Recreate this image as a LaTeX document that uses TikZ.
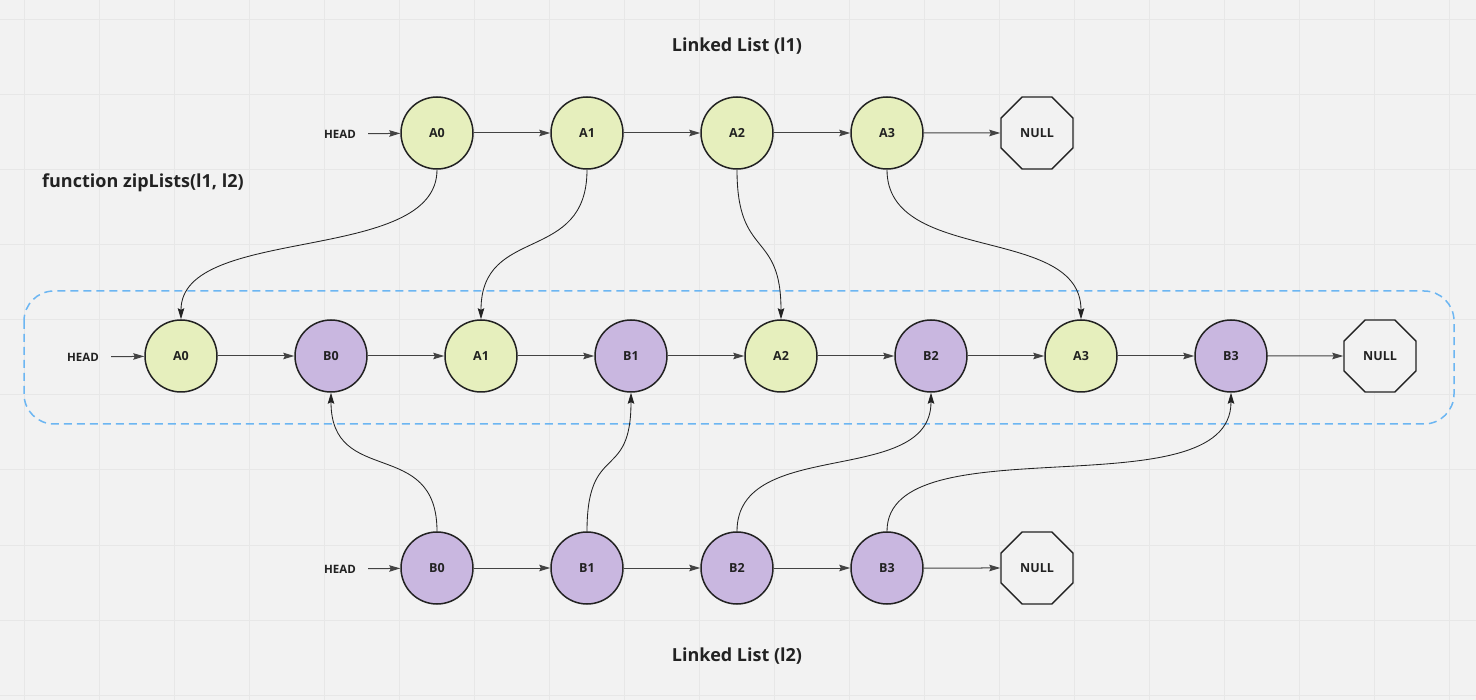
\documentclass[tikz,border=0pt]{standalone}
\usepackage{fontspec}
\setmainfont{Open Sans}
\usetikzlibrary{arrows.meta,shapes.geometric}

\definecolor{bg}{HTML}{F2F2F2}
\definecolor{gridc}{HTML}{E7E7E7}
\definecolor{lgreen}{HTML}{E6EFBD}
\definecolor{lpurple}{HTML}{C9B7E0}
\definecolor{dashblue}{HTML}{6CB6F2}
\definecolor{ink}{HTML}{222222}

\begin{document}
\begin{tikzpicture}[x=1pt,y=-1pt,
  listnode/.style={circle, draw=ink, line width=1.5pt, minimum size=72pt, inner sep=0pt,
    font=\bfseries\fontsize{12.5}{14}\selectfont, text=ink},
  anode/.style={listnode, fill=lgreen},
  bnode/.style={listnode, fill=lpurple},
  nullnode/.style={regular polygon, regular polygon sides=8, draw=ink, line width=1.4pt,
    minimum size=78pt, inner sep=0pt, fill=bg,
    font=\bfseries\fontsize{12.5}{14}\selectfont, text=ink},
  headlabel/.style={font=\bfseries\fontsize{11.5}{13}\selectfont, text=ink, inner sep=0pt},
  link/.style={-{Stealth[length=11pt,width=6.5pt,inset=1.5pt]}, draw=ink!85, line width=1pt},
  headlink/.style={link, shorten <=12pt},
  zip/.style={-{Stealth[length=11pt,width=6.5pt,inset=1.5pt]}, draw=ink, line width=0.85pt},
  title/.style={font=\bfseries\fontsize{18}{21}\selectfont, text=ink, inner sep=0pt}
]
\useasboundingbox (0,0) rectangle (1476,700);
% canvas and grid
\fill[bg] (0,0) rectangle (1476,700);
\foreach \gx in {24,99,...,1474} \draw[gridc, line width=1pt] (\gx,0) -- (\gx,700);
\foreach \gy in {20,95,...,695} \draw[gridc, line width=1pt] (0,\gy) -- (1476,\gy);

% titles
\node[title] (t1) at (737,46) {Linked List (l1)};
\node[title] (t2) at (737,656) {Linked List (l2)};
\node[title, anchor=west] (fn) at (42,183) {function zipLists(l1, l2)};

% frame around the zipped list
\draw[dashblue, line width=1.5pt, dash pattern=on 8pt off 5pt, rounded corners=30pt]
  (24,291) rectangle (1454,424);

% list l1
\node[headlabel] (h1) at (340,134) {HEAD};
\node[anode] (a0) at (437,133) {A0};
\node[anode] (a1) at (587,133) {A1};
\node[anode] (a2) at (737,133) {A2};
\node[anode] (a3) at (887,133) {A3};
\node[nullnode] (n1) at (1037,133) {NULL};
\draw[headlink] (h1) -- (a0);
\draw[link] (a0) -- (a1);
\draw[link] (a1) -- (a2);
\draw[link] (a2) -- (a3);
\draw[link] (a3) -- (n1);

% zipped list
\node[headlabel] (hz) at (83,357) {HEAD};
\node[anode] (za0) at (181,356) {A0};
\node[bnode] (zb0) at (331,356) {B0};
\node[anode] (za1) at (481,356) {A1};
\node[bnode] (zb1) at (631,356) {B1};
\node[anode] (za2) at (781,356) {A2};
\node[bnode] (zb2) at (931,356) {B2};
\node[anode] (za3) at (1081,356) {A3};
\node[bnode] (zb3) at (1231,356) {B3};
\node[nullnode] (nz) at (1380,356) {NULL};
\draw[headlink] (hz) -- (za0);
\draw[link] (za0) -- (zb0);
\draw[link] (zb0) -- (za1);
\draw[link] (za1) -- (zb1);
\draw[link] (zb1) -- (za2);
\draw[link] (za2) -- (zb2);
\draw[link] (zb2) -- (za3);
\draw[link] (za3) -- (zb3);
\draw[link] (zb3) -- (nz);

% list l2
\node[headlabel] (h2) at (340,569) {HEAD};
\node[bnode] (b0) at (437,568) {B0};
\node[bnode] (b1) at (587,568) {B1};
\node[bnode] (b2) at (737,568) {B2};
\node[bnode] (b3) at (887,568) {B3};
\node[nullnode] (n2) at (1037,568) {NULL};
\draw[headlink] (h2) -- (b0);
\draw[link] (b0) -- (b1);
\draw[link] (b1) -- (b2);
\draw[link] (b2) -- (b3);
\draw[link] (b3) -- (n2);

% l1 nodes into the zipped list
\draw[zip] (a0.south) .. controls +(0,95) and +(0,-95) .. (za0.north);
\draw[zip] (a1.south) .. controls +(0,95) and +(0,-95) .. (za1.north);
\draw[zip] (a2.south) .. controls +(0,90) and +(0,-90) .. (za2.north);
\draw[zip] (a3.south) .. controls +(0,95) and +(0,-95) .. (za3.north);

% l2 nodes into the zipped list
\draw[zip] (b0.north) .. controls +(0,-95) and +(0,95) .. (zb0.south);
\draw[zip] (b1.north) .. controls +(0,-90) and +(0,90) .. (zb1.south);
\draw[zip] (b2.north) .. controls +(0,-95) and +(0,95) .. (zb2.south);
\draw[zip] (b3.north) .. controls +(0,-110) and +(0,120) .. (zb3.south);
\end{tikzpicture}
\end{document}
